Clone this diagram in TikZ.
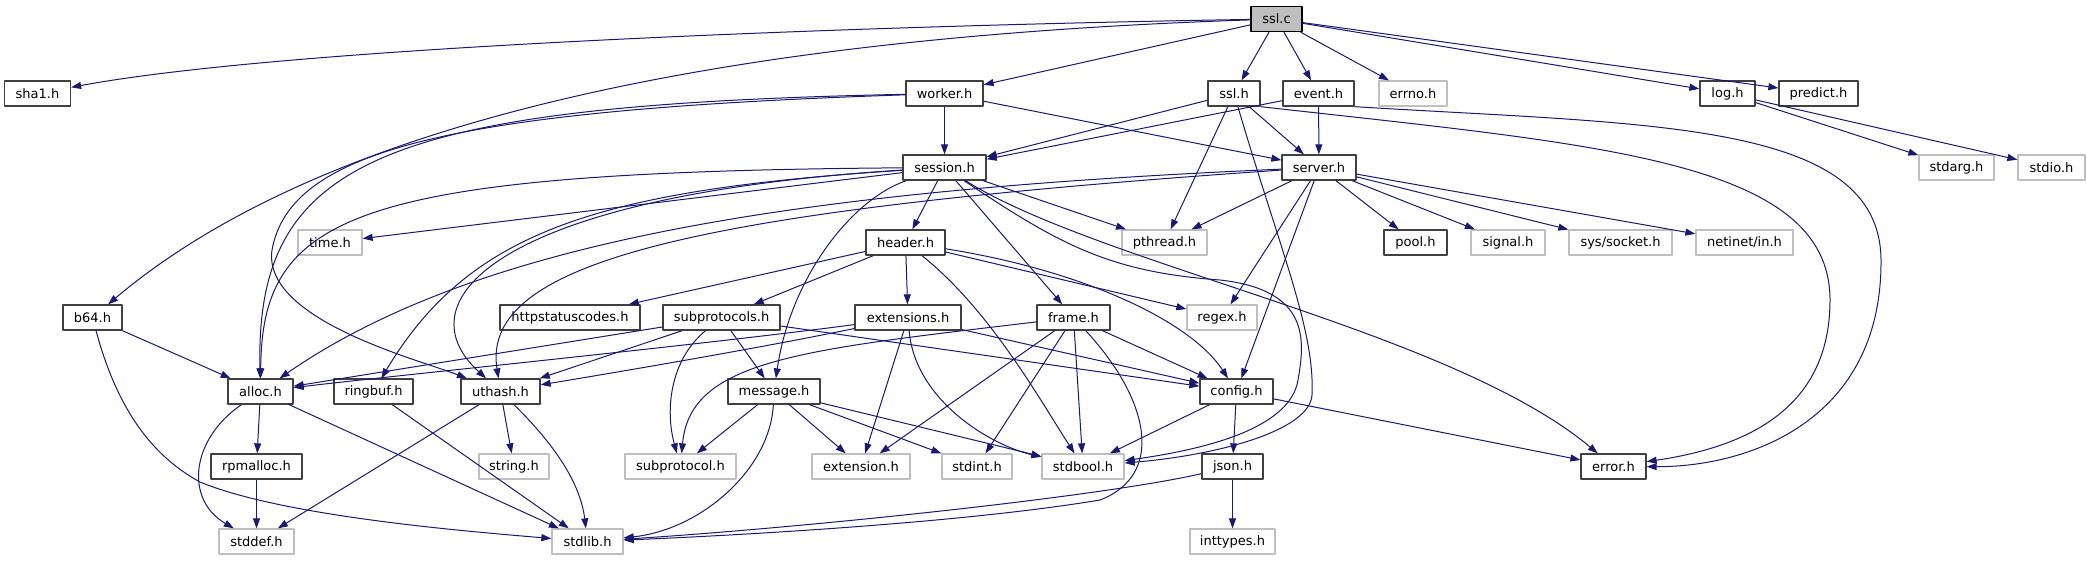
\documentclass[tikz,border=0pt]{standalone}
\usepackage{fontspec}
\setmainfont{DejaVu Sans}
\usetikzlibrary{arrows.meta}
\definecolor{edgeblue}{HTML}{191970}
\definecolor{docgray}{HTML}{404040}
\definecolor{sysgray}{HTML}{BFBFBF}
\begin{document}
\begin{tikzpicture}[x=1pt,y=1pt,line join=round,>={Triangle[length=10pt,width=7pt]}]
	\tikzset{every node/.style={minimum height=25pt,inner xsep=3pt,inner ysep=0pt,line width=1.3pt,fill=white,font=\fontsize{13}{15}\selectfont},
		doc/.style={draw=docgray},
		sys/.style={draw=sysgray},
		dep/.style={->,draw=edgeblue,line width=1pt}}
	\useasboundingbox (0,0) rectangle (2087,-560);
	\node[draw=black,fill=sysgray,minimum width=51] (sslc) at (1276.5,-19) {ssl.c};
	\foreach \n/\x/\y/\w/\txt in {sha1/37.5/93.5/66/sha1.h, worker/944.5/93.5/77/worker.h,
		sslh/1234/93.5/52/ssl.h, event/1318.5/93.5/71/event.h, log/1727.5/93.5/55/log.h,
		predict/1818.5/93.5/79/predict.h, session/944.5/167.5/83/session.h,
		server/1319/167.5/74/server.h, header/905.5/242.5/79/header.h, pool/1415.5/242.5/63/pool.h,
		b64/92.5/317.5/59/b64.h, httpstatus/570/317.5/140/httpstatuscodes.h,
		subprotocols/721.5/317.5/117/subprotocols.h, extensions/908/317.5/106/extensions.h,
		frame/1073.5/317.5/73/frame.h, alloc/260.5/391.5/65/alloc.h, ringbuf/373.5/391.5/79/ringbuf.h,
		uthash/500.5/391.5/79/uthash.h, message/774/391.5/92/message.h, config/1236.5/391.5/73/config.h,
		rpmalloc/256.5/466.5/91/rpmalloc.h, json/1232.5/466.5/61/json.h, errorh/1613.5/466.5/65/error.h}
	\node[doc,minimum width=\w] (\n) at (\x,-\y) {\txt};
	\foreach \n/\x/\y/\w/\txt in {errno/1413/93.5/68/errno.h, stdarg/1956.5/167.5/75/stdarg.h,
		stdio/2051.5/167.5/67/stdio.h, time/330/242.5/64/time.h, pthread/1164.5/242.5/85/pthread.h,
		signal/1508/242.5/74/signal.h, socket/1620.5/242.5/103/{sys/socket.h},
		netinet/1744.5/242.5/97/{netinet/in.h}, regex/1222/317.5/70/regex.h, string/514/466.5/70/string.h,
		subprotocol/680.5/466.5/111/subprotocol.h, extension/861/466.5/98/extension.h,
		stdint/977/466.5/70/stdint.h, stdbool/1083/466.5/82/stdbool.h, stddef/256.5/541.5/75/stddef.h,
		stdlib/587.5/541.5/71/stdlib.h, inttypes/1232.5/541.5/85/inttypes.h}
	\node[sys,minimum width=\w] (\n) at (\x,-\y) {\txt};
	\foreach \a/\b in {sslc/worker, sslc/sslh, sslc/event, sslc/errno, sslc/log, sslc/predict,
		worker/session, worker/server, sslh/session, sslh/server, sslh/pthread, event/session,
		event/server, log/stdarg, log/stdio, session/header, session/frame, session/pthread,
		session/time, server/pthread, server/regex, server/config, server/pool, server/signal,
		server/socket, server/netinet, header/httpstatus, header/subprotocols, header/extensions,
		header/regex, subprotocols/alloc, subprotocols/uthash, subprotocols/message,
		subprotocols/config, extensions/extension, extensions/config, frame/extension, frame/stdint,
		frame/stdbool, frame/config, message/subprotocol, message/extension, message/stdint,
		message/stdbool, config/stdbool, config/json, config/errorh, json/inttypes, alloc/rpmalloc,
		alloc/stdlib, rpmalloc/stddef, ringbuf/stdlib, uthash/stddef, uthash/string, b64/alloc}
	\draw[dep] (\a) -- (\b);
	\draw[dep] (sslc) .. controls (900,-25) and (300,-45) .. (sha1);
	\draw[dep] (sslc) .. controls (800,-35) and (350,-100) .. (b64);
	\draw[dep] (worker) .. controls (380,-105) and (255,-160) .. (alloc);
	\draw[dep] (worker) .. controls (450,-110) and (290,-150) .. (272,-250) .. controls (262,-320) and (420,-360) .. (uthash);
	\draw[dep] (session) .. controls (350,-172) and (262,-215) .. (alloc);
	\draw[dep] (session) .. controls (600,-190) and (470,-230) .. (ringbuf);
	\draw[dep] (session) .. controls (500,-195) and (400,-300) .. (uthash);
	\draw[dep] (server) .. controls (800,-190) and (480,-240) .. (alloc);
	\draw[dep] (server) .. controls (700,-210) and (480,-260) .. (uthash);
	\draw[dep] (session) .. controls (850,-200) and (790,-280) .. (message);
	\draw[dep] (session) .. controls (1060,-245) and (1110,-272) .. (1220,-280) .. controls (1310,-290) and (1305,-340) .. (1298,-380) .. controls (1290,-430) and (1200,-450) .. (stdbool);
	\draw[dep] (session) .. controls (1100,-265) and (1450,-330) .. (errorh);
	\draw[dep] (sslh) .. controls (1280,-250) and (1315,-330) .. (1312,-395) .. controls (1310,-430) and (1220,-455) .. (stdbool);
	\draw[dep] (sslh.south east) .. controls (1600,-145) and (1830,-160) .. (1830,-300) .. controls (1830,-400) and (1760,-445) .. (errorh);
	\draw[dep] (event.south east) .. controls (1650,-125) and (1880,-120) .. (1881,-260) .. controls (1882,-420) and (1750,-467) .. (errorh);
	\draw[dep] (header) .. controls (1080,-270) and (1190,-320) .. (config);
	\draw[dep] (header) .. controls (990,-310) and (1040,-400) .. (stdbool);
	\draw[dep] (subprotocols) .. controls (670,-360) and (665,-410) .. (subprotocol);
	\draw[dep] (extensions) .. controls (700,-345) and (400,-375) .. (alloc);
	\draw[dep] (extensions) .. controls (750,-350) and (600,-375) .. (uthash);
	\draw[dep] (extensions) .. controls (915,-400) and (990,-445) .. (stdbool);
	\draw[dep] (frame) .. controls (800,-350) and (690,-360) .. (subprotocol);
	\draw[dep] (frame) .. controls (1150,-400) and (1165,-475) .. (1100,-500) .. controls (950,-525) and (700,-537) .. (stdlib);
	\draw[dep] (message) .. controls (770,-470) and (700,-530) .. (stdlib);
	\draw[dep] (json) .. controls (1100,-497) and (800,-528) .. (stdlib);
	\draw[dep] (alloc) .. controls (190,-440) and (185,-500) .. (stddef);
	\draw[dep] (uthash) .. controls (550,-440) and (580,-480) .. (stdlib);
	\draw[dep] (b64) .. controls (120,-420) and (160,-460) .. (200,-482) .. controls (280,-515) and (450,-530) .. (stdlib);
\end{tikzpicture}
\end{document}
